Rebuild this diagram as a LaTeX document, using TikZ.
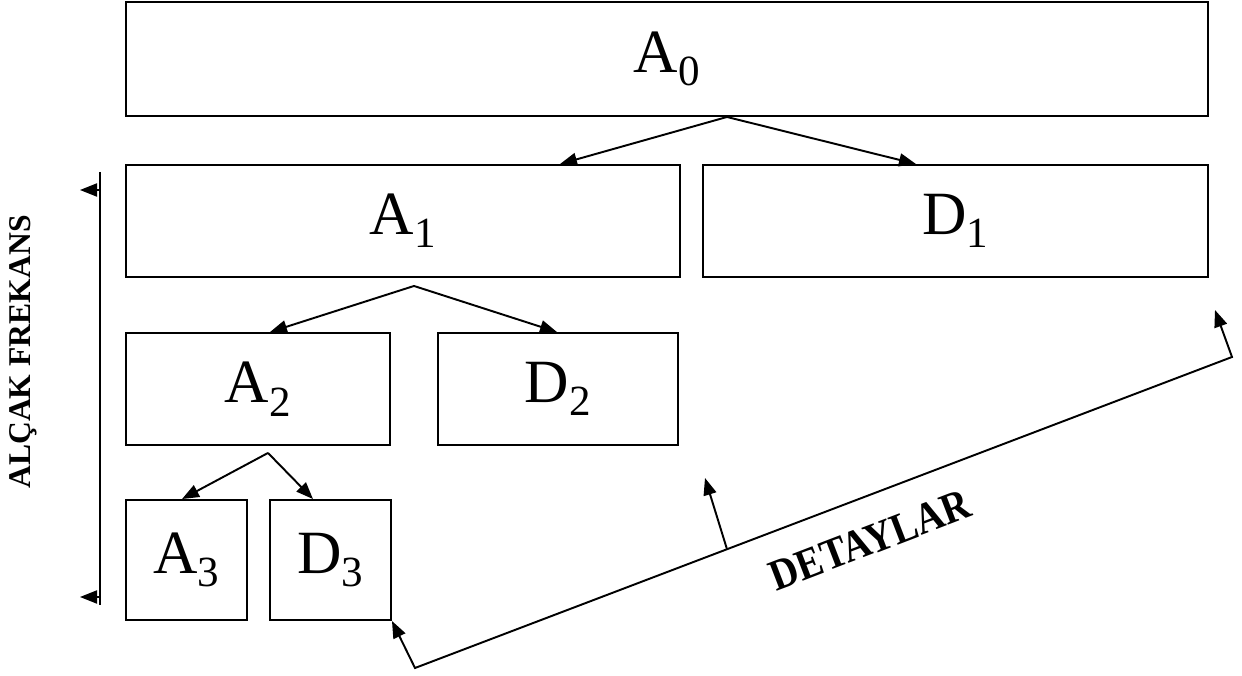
\documentclass[tikz,border=0pt]{standalone}
\usepackage{fontspec}
\setmainfont{Liberation Serif}
\newfontfamily\detayfont[FakeStretch=0.88]{Liberation Serif}
\usetikzlibrary{arrows.meta}

\tikzset{
	kutu/.style={draw, line width=1.1pt, inner sep=0pt, font=\fontsize{35}{40}\selectfont},
	ok/.style={line width=1.1pt, -{Triangle[length=0.34cm,width=0.26cm]}},
	cizgi/.style={line width=1.1pt}
}

\begin{document}
\begin{tikzpicture}
		\useasboundingbox (0,0) rectangle (24.84,13.5);

		\node[kutu, minimum width=21.64cm, minimum height=2.28cm] (a0) at (13.34,12.32) {A\textsubscript{0}};
		\node[kutu, minimum width=11.08cm, minimum height=2.24cm] (a1) at (8.06,9.08) {A\textsubscript{1}};
		\node[kutu, minimum width=10.10cm, minimum height=2.24cm] (d1) at (19.11,9.08) {D\textsubscript{1}};
		\node[kutu, minimum width=5.28cm, minimum height=2.24cm] (a2) at (5.16,5.72) {A\textsubscript{2}};
		\node[kutu, minimum width=4.8cm, minimum height=2.24cm] (d2) at (11.16,5.72) {D\textsubscript{2}};
		\node[kutu, minimum width=2.42cm, minimum height=2.4cm] (a3) at (3.73,2.3) {A\textsubscript{3}};
		\node[kutu, minimum width=2.42cm, minimum height=2.4cm] (d3) at (6.61,2.3) {D\textsubscript{3}};

		\coordinate (s0) at ([xshift=1.2cm]a0.south);
		\draw[ok] (s0) -- ([xshift=3.14cm]a1.north);
		\draw[ok] (s0) -- ([xshift=-0.79cm]d1.north);

		\coordinate (s1) at ([xshift=0.22cm,yshift=-0.16cm]a1.south);
		\draw[ok] (s1) -- ([xshift=0.24cm]a2.north);
		\draw[ok] (s1) -- ([xshift=-0.02cm]d2.north);

		\coordinate (s2) at ([xshift=0.2cm,yshift=-0.14cm]a2.south);
		\draw[ok] (s2) -- ([xshift=-0.09cm]a3.north);
		\draw[ok] (s2) -- ([xshift=-0.35cm]d3.north);

		% alcak frekans
		\coordinate (fust) at (2,10.06);
		\coordinate (falt) at (2,1.4);
		\coordinate (fok1) at (2,9.7);
		\coordinate (fok2) at (2,1.56);
		\draw[cizgi] (fust) -- (falt);
		\draw[ok] (fok1) -- (1.6,9.7);
		\draw[ok] (fok2) -- (1.6,1.56);
		\node[rotate=90, font=\bfseries\fontsize{18}{20}\selectfont] (frekans) at (0.46,6.46) {ALÇAK FREKANS};

		% detaylar
		\coordinate (dsol) at (8.3,0.14);
		\coordinate (dsag) at (24.64,6.36);
		\coordinate (ducu) at (24.3,7.3);
		\coordinate (dorta) at (14.54,2.516);
		\draw[cizgi, {Triangle[length=0.34cm,width=0.26cm]}-{Triangle[length=0.34cm,width=0.26cm]}]
			(d3.south east) -- (dsol) -- (dsag) -- (ducu);
		\draw[ok] (dorta) -- (14.1,3.94);
		\node[rotate=21, inner sep=0pt, font=\detayfont\bfseries\fontsize{25}{28}\selectfont] (detay) at (17.4,2.7) {DETAYLAR};

	\end{tikzpicture}
\end{document}
